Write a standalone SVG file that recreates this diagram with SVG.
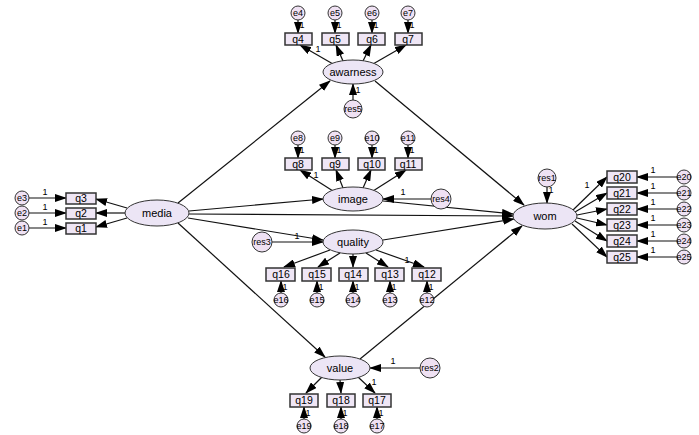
<svg xmlns="http://www.w3.org/2000/svg" width="699" height="435" viewBox="0 0 699 435">
<style>
.b{fill:#efe6f5;stroke:#333;stroke-width:1.5}
.l{fill:#ece5f5;stroke:#333;stroke-width:1}
.c{fill:#efe1f3;stroke:#333;stroke-width:1}
text{font-family:"Liberation Sans",Arial,sans-serif;fill:#000;text-anchor:middle}
.t{font-size:10.5px}.e{font-size:11px}.s{font-size:9px}.o{font-size:9px}
#conn path{stroke:#111;stroke-width:1.2;fill:none;marker-end:url(#a)}
</style>
<defs><marker id="a" markerUnits="userSpaceOnUse" markerWidth="12" markerHeight="8" refX="11" refY="4" orient="auto"><path d="M0,0L12,4L0,8z" fill="#000"/></marker></defs>
<rect width="699" height="435" fill="#fff"/>
<g id="conn">
<path d="M178,203L330,81"/><path d="M189,211L323,199"/><path d="M189,214L513,216"/><path d="M188,218L323,240"/><path d="M178,223L325,357"/>
<path d="M127,208L96,199"/><path d="M125,213L96,213"/><path d="M127,218L96,227"/>
<path d="M29,198L66,198"/><path d="M29,213L66,213"/><path d="M29,228L66,228"/>
<path d="M375,81L524,205"/><path d="M383,201L513,214"/><path d="M383,240L514,219"/><path d="M360,359L522,226"/>
<path d="M333,64L300,45"/><path d="M343,61L336,45"/><path d="M363,61L371,45"/><path d="M373,64L406,45"/>
<path d="M298,20L298,33"/><path d="M335,20L335,33"/><path d="M372,20L372,33"/><path d="M408,20L408,33"/>
<path d="M353,100L353,84"/>
<path d="M333,191L300,170"/><path d="M343,188L336,170"/><path d="M363,188L371,170"/><path d="M373,191L406,170"/>
<path d="M298,145L298,158"/><path d="M335,145L335,158"/><path d="M372,145L372,158"/><path d="M408,145L408,158"/>
<path d="M431,199L383,199"/>
<path d="M330,250L284,267"/><path d="M340,253L318,267"/><path d="M353,254L353,267"/><path d="M366,253L388,267"/><path d="M376,250L424,267"/>
<path d="M281,293L281,281"/><path d="M317,293L317,281"/><path d="M353,293L353,281"/><path d="M390,293L390,281"/><path d="M427,293L427,281"/>
<path d="M272,242L323,242"/>
<path d="M547,186L547,203"/>
<path d="M573,210L607,177"/><path d="M575,212L607,193"/><path d="M577,215L607,209"/><path d="M577,218L607,225"/><path d="M575,221L607,241"/><path d="M572,224L607,257"/>
<path d="M677,177L637,177"/><path d="M677,193L637,193"/><path d="M677,209L637,209"/><path d="M677,225L637,225"/><path d="M677,241L637,241"/><path d="M677,257L637,257"/>
<path d="M322,377L306,393"/><path d="M340,380L341,393"/><path d="M358,377L375,393"/>
<path d="M304,419L304,407"/><path d="M341,419L341,407"/><path d="M377,419L377,407"/>
<path d="M420,368L370,368"/>
</g>
<g id="media"><ellipse class="l" cx="157" cy="213" rx="32" ry="13"/><text class="e" x="157" y="217">media</text></g>
<g id="awarness"><ellipse class="l" cx="353" cy="72" rx="30" ry="12"/><text class="e" x="353" y="76">awarness</text></g>
<g id="image"><ellipse class="l" cx="353" cy="199" rx="30" ry="12"/><text class="e" x="353" y="203">image</text></g>
<g id="quality"><ellipse class="l" cx="353" cy="242" rx="30" ry="12"/><text class="e" x="353" y="246">quality</text></g>
<g id="value"><ellipse class="l" cx="340" cy="368" rx="30" ry="12"/><text class="e" x="340" y="372">value</text></g>
<g id="wom"><ellipse class="l" cx="545" cy="216" rx="32" ry="13"/><text class="e" x="545" y="220">wom</text></g>
<g id="q3"><rect class="b" x="66" y="193" width="30" height="11"/><text class="t" x="81" y="202">q3</text></g>
<g id="q2"><rect class="b" x="66" y="208" width="30" height="11"/><text class="t" x="81" y="217">q2</text></g>
<g id="q1"><rect class="b" x="66" y="223" width="30" height="11"/><text class="t" x="81" y="232">q1</text></g>
<g id="q4"><rect class="b" x="285" y="33" width="27" height="12"/><text class="t" x="298" y="43">q4</text></g>
<g id="q5"><rect class="b" x="322" y="33" width="27" height="12"/><text class="t" x="335" y="43">q5</text></g>
<g id="q6"><rect class="b" x="358" y="33" width="27" height="12"/><text class="t" x="372" y="43">q6</text></g>
<g id="q7"><rect class="b" x="395" y="33" width="27" height="12"/><text class="t" x="408" y="43">q7</text></g>
<g id="q8"><rect class="b" x="285" y="158" width="27" height="12"/><text class="t" x="298" y="168">q8</text></g>
<g id="q9"><rect class="b" x="322" y="158" width="27" height="12"/><text class="t" x="335" y="168">q9</text></g>
<g id="q10"><rect class="b" x="358" y="158" width="27" height="12"/><text class="t" x="372" y="168">q10</text></g>
<g id="q11"><rect class="b" x="395" y="158" width="27" height="12"/><text class="t" x="408" y="168">q11</text></g>
<g id="q16"><rect class="b" x="266" y="268" width="29" height="13"/><text class="t" x="281" y="278">q16</text></g>
<g id="q15"><rect class="b" x="302" y="268" width="29" height="13"/><text class="t" x="317" y="278">q15</text></g>
<g id="q14"><rect class="b" x="339" y="268" width="29" height="13"/><text class="t" x="353" y="278">q14</text></g>
<g id="q13"><rect class="b" x="375" y="268" width="29" height="13"/><text class="t" x="390" y="278">q13</text></g>
<g id="q12"><rect class="b" x="412" y="268" width="29" height="13"/><text class="t" x="427" y="278">q12</text></g>
<g id="q19"><rect class="b" x="290" y="394" width="28" height="13"/><text class="t" x="304" y="404">q19</text></g>
<g id="q18"><rect class="b" x="327" y="394" width="28" height="13"/><text class="t" x="341" y="404">q18</text></g>
<g id="q17"><rect class="b" x="363" y="394" width="28" height="13"/><text class="t" x="377" y="404">q17</text></g>
<g id="q20"><rect class="b" x="607" y="171" width="30" height="12"/><text class="t" x="622" y="181">q20</text></g>
<g id="q21"><rect class="b" x="607" y="187" width="30" height="12"/><text class="t" x="622" y="197">q21</text></g>
<g id="q22"><rect class="b" x="607" y="203" width="30" height="12"/><text class="t" x="622" y="213">q22</text></g>
<g id="q23"><rect class="b" x="607" y="219" width="30" height="12"/><text class="t" x="622" y="229">q23</text></g>
<g id="q24"><rect class="b" x="607" y="235" width="30" height="12"/><text class="t" x="622" y="245">q24</text></g>
<g id="q25"><rect class="b" x="607" y="251" width="30" height="12"/><text class="t" x="622" y="261">q25</text></g>
<g id="e3"><circle class="c" cx="22" cy="198" r="7"/><text class="o" x="22" y="201">e3</text></g>
<g id="e2"><circle class="c" cx="22" cy="213" r="7"/><text class="o" x="22" y="216">e2</text></g>
<g id="e1"><circle class="c" cx="22" cy="228" r="7"/><text class="o" x="22" y="231">e1</text></g>
<g id="e4"><circle class="c" cx="298" cy="13" r="7"/><text class="o" x="298" y="16">e4</text></g>
<g id="e5"><circle class="c" cx="335" cy="13" r="7"/><text class="o" x="335" y="16">e5</text></g>
<g id="e6"><circle class="c" cx="372" cy="13" r="7"/><text class="o" x="372" y="16">e6</text></g>
<g id="e7"><circle class="c" cx="408" cy="13" r="7"/><text class="o" x="408" y="16">e7</text></g>
<g id="res5"><circle class="c" cx="353" cy="109" r="9"/><text class="s" x="353" y="112">res5</text></g>
<g id="e8"><circle class="c" cx="298" cy="138" r="7"/><text class="o" x="298" y="141">e8</text></g>
<g id="e9"><circle class="c" cx="335" cy="138" r="7"/><text class="o" x="335" y="141">e9</text></g>
<g id="e10"><circle class="c" cx="372" cy="138" r="7"/><text class="o" x="372" y="141">e10</text></g>
<g id="e11"><circle class="c" cx="408" cy="138" r="7"/><text class="o" x="408" y="141">e11</text></g>
<g id="res4"><circle class="c" cx="441" cy="199" r="10"/><text class="s" x="441" y="202">res4</text></g>
<g id="res3"><circle class="c" cx="262" cy="242" r="10"/><text class="s" x="262" y="245">res3</text></g>
<g id="e16"><circle class="c" cx="281" cy="300" r="7"/><text class="o" x="281" y="303">e16</text></g>
<g id="e15"><circle class="c" cx="317" cy="300" r="7"/><text class="o" x="317" y="303">e15</text></g>
<g id="e14"><circle class="c" cx="353" cy="300" r="7"/><text class="o" x="353" y="303">e14</text></g>
<g id="e13"><circle class="c" cx="390" cy="300" r="7"/><text class="o" x="390" y="303">e13</text></g>
<g id="e12"><circle class="c" cx="427" cy="300" r="7"/><text class="o" x="427" y="303">e12</text></g>
<g id="res2"><circle class="c" cx="430" cy="368" r="10"/><text class="s" x="430" y="371">res2</text></g>
<g id="e19"><circle class="c" cx="304" cy="426" r="7"/><text class="o" x="304" y="429">e19</text></g>
<g id="e18"><circle class="c" cx="341" cy="426" r="7"/><text class="o" x="341" y="429">e18</text></g>
<g id="e17"><circle class="c" cx="377" cy="426" r="7"/><text class="o" x="377" y="429">e17</text></g>
<g id="res1"><circle class="c" cx="547" cy="178" r="9"/><text class="s" x="547" y="181">res1</text></g>
<g id="e20"><circle class="c" cx="684" cy="177" r="7"/><text class="o" x="684" y="180">e20</text></g>
<g id="e21"><circle class="c" cx="684" cy="193" r="7"/><text class="o" x="684" y="196">e21</text></g>
<g id="e22"><circle class="c" cx="684" cy="209" r="7"/><text class="o" x="684" y="212">e22</text></g>
<g id="e23"><circle class="c" cx="684" cy="225" r="7"/><text class="o" x="684" y="228">e23</text></g>
<g id="e24"><circle class="c" cx="684" cy="241" r="7"/><text class="o" x="684" y="244">e24</text></g>
<g id="e25"><circle class="c" cx="684" cy="257" r="7"/><text class="o" x="684" y="260">e25</text></g>
<g id="labels1" class="s">
<text x="45" y="195">1</text><text x="45" y="210">1</text><text x="45" y="225">1</text>
<text x="318" y="52">1</text><text x="302" y="28">1</text><text x="339" y="28">1</text><text x="376" y="28">1</text><text x="412" y="28">1</text>
<text x="358" y="93">1</text>
<text x="316" y="178">1</text><text x="302" y="153">1</text><text x="339" y="153">1</text><text x="376" y="153">1</text><text x="412" y="153">1</text>
<text x="403" y="195">1</text><text x="297" y="239">1</text><text x="407" y="263">1</text>
<text x="285" y="290">1</text><text x="321" y="290">1</text><text x="357" y="290">1</text><text x="394" y="290">1</text><text x="431" y="290">1</text>
<text x="551" y="193">1</text><text x="587" y="188">1</text>
<text x="653" y="173">1</text><text x="653" y="189">1</text><text x="653" y="205">1</text><text x="653" y="221">1</text><text x="653" y="237">1</text><text x="653" y="253">1</text>
<text x="393" y="364">1</text><text x="374" y="385">1</text>
<text x="308" y="416">1</text><text x="345" y="416">1</text><text x="381" y="416">1</text>
</g>
</svg>
